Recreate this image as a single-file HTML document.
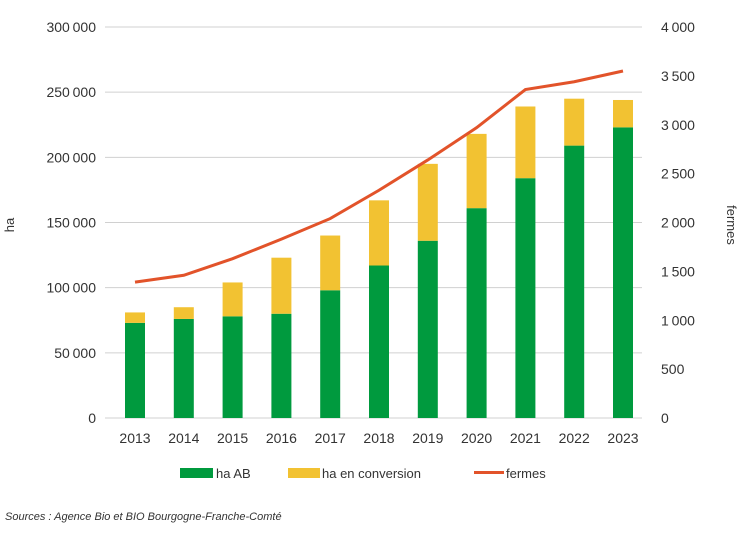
<!DOCTYPE html>
<html><head><meta charset="utf-8"><style>
body{margin:0;background:#fff;font-family:"Liberation Sans",sans-serif;}
svg text{font-family:"Liberation Sans",sans-serif;fill:#333;}
</style></head><body>
<svg id="chart" width="747" height="528">
<g id="grid"></g><g id="bars"></g><g id="line"></g><g id="axes"></g>
<g>
<rect x="180" y="468" width="33" height="10" fill="#009a3e"/>
<text x="216" y="478" font-size="13">ha  AB</text>
<rect x="288" y="468" width="32" height="10" fill="#f2c232"/>
<text x="322" y="478" font-size="13">ha en conversion</text>
<rect x="474" y="471" width="30" height="3" fill="#e2532a"/>
<text x="506" y="478" font-size="13">fermes</text>
</g>
<text x="5" y="520" font-size="11" font-style="italic">Sources : Agence Bio et BIO Bourgogne-Franche-Comté</text>
<text transform="translate(14,225) rotate(-90)" font-size="13" text-anchor="middle">ha</text>
<text transform="translate(727,225) rotate(90)" font-size="13" text-anchor="middle">fermes</text>
</svg>
<script>
const years=["2013","2014","2015","2016","2017","2018","2019","2020","2021","2022","2023"];
const haAB=[73000,76000,78000,80000,98000,117000,136000,161000,184000,209000,223000];
const haConv=[8000,9000,26000,43000,42000,50000,59000,57000,55000,36000,21000];
const fermes=[1390,1460,1630,1830,2040,2330,2640,2970,3360,3440,3550];
const leftTicks=[0,50000,100000,150000,200000,250000,300000];
const rightTicks=[0,500,1000,1500,2000,2500,3000,3500,4000];
const NS="http://www.w3.org/2000/svg";
const y0=418,yTop=27;
const yL=v=>y0-(v/300000)*(y0-yTop);
const yR=v=>y0-(v/4000)*(y0-yTop);
const xC=i=>135+i*48.8;
const fmt=v=>String(v).replace(/\B(?=(\d{3})+(?!\d))/g,"\u2009");
function mk(tag,attrs,parent){const e=document.createElementNS(NS,tag);for(const k in attrs)e.setAttribute(k,attrs[k]);document.getElementById(parent).appendChild(e);return e;}
leftTicks.forEach((t,i)=>{
 const l=mk("line",{x1:105,x2:642,y1:yL(t),y2:yL(t),stroke:"#d0d0d0","stroke-width":1},"grid");
 
 
 const tx=mk("text",{x:96,y:yL(t)+5,"font-size":14,"text-anchor":"end"},"axes");tx.textContent=fmt(t);
 
 
});
rightTicks.forEach(t=>{
 const tx=mk("text",{x:661,y:yR(t)+5,"font-size":14},"axes");tx.textContent=fmt(t);
 
 
});
years.forEach((yr,i)=>{
 const x=xC(i)-10;
 const g=mk("rect",{x:x,width:20,y:yL(haAB[i]),height:y0-yL(haAB[i]),fill:"#009a3e"},"bars");
 
 
 const c=mk("rect",{x:x,width:20,y:yL(haAB[i]+haConv[i]),height:yL(haAB[i])-yL(haAB[i]+haConv[i]),fill:"#f2c232"},"bars");
 
 
 const tx=mk("text",{x:xC(i),y:443,"font-size":14,"text-anchor":"middle"},"axes");tx.textContent=yr;
 
 
});
const pl=mk("polyline",{points:fermes.map((v,i)=>xC(i)+","+yR(v)).join(" "),fill:"none",stroke:"#e2532a","stroke-width":3},"line");


</script>
</body></html>
